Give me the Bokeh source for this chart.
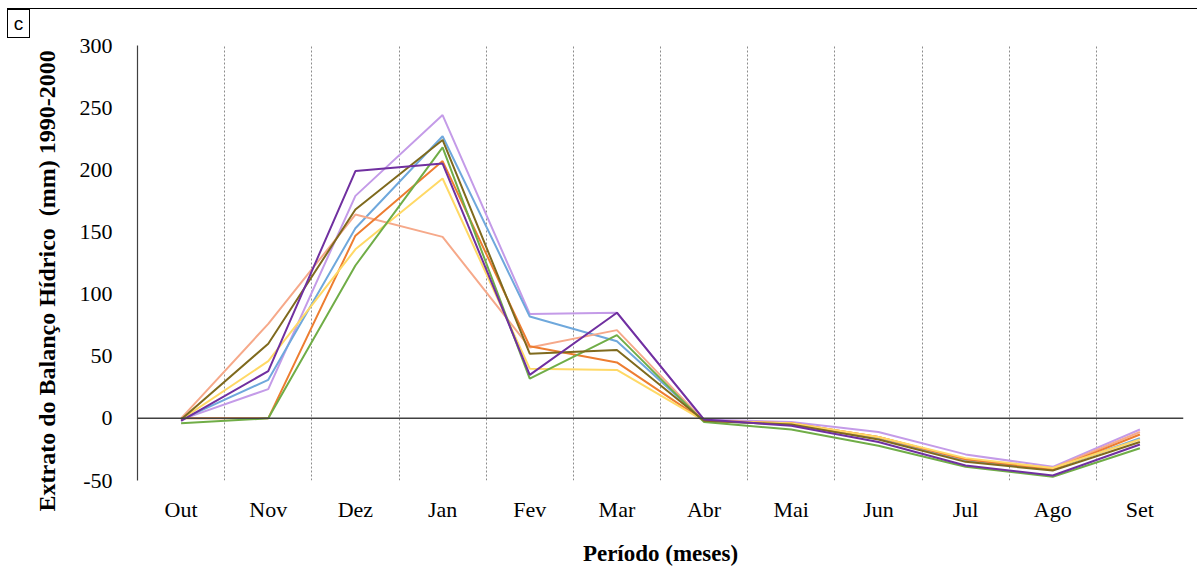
from bokeh.plotting import figure
from bokeh.layouts import column
from bokeh.models import Span, FixedTicker, Range1d, Title, Div
from bokeh.embed import file_html
from bokeh.resources import INLINE

months = ["Out", "Nov", "Dez", "Jan", "Fev", "Mar", "Abr", "Mai", "Jun", "Jul", "Ago", "Set"]
y_ticks = [-50, 0, 50, 100, 150, 200, 250, 300]

s_lavender = [-1, 23.5, 179, 244, 84, 85, -1, -3, -11, -29, -39, -9]
s_blue = [-1, 31, 153, 227, 82, 62, -2, -5, -16, -34, -41, -16]
s_salmon = [0, 76, 164, 146, 57, 71, -2, -4, -15, -33, -40, -11]
s_orange = [0, 0, 147, 207, 58, 45, -2, -4, -15, -33, -41, -13]
s_yellow = [-1, 46, 136, 193, 40, 39, -2, -4, -15, -32, -40, -17]
s_green = [-4, 0, 123, 218, 32, 67, -3, -9, -22, -39, -47, -24]
s_olive = [-1, 60, 168, 224, 52, 55, -2, -5, -17, -35, -42, -19]
s_purple = [-2, 38, 199, 205, 35, 85, -1, -6, -19, -38, -46, -21]

series = [
    (s_lavender, "#c49be8"),
    (s_blue, "#6fa8dc"),
    (s_salmon, "#f6a98a"),
    (s_orange, "#ed7d31"),
    (s_yellow, "#ffd966"),
    (s_green, "#70ad47"),
    (s_olive, "#7f6a1e"),
    (s_purple, "#7030a0"),
]

FONT = "Liberation Serif"

p = figure(width=1197, height=560, output_backend="svg", toolbar_location=None,
           x_range=Range1d(0, len(months)), y_range=Range1d(-50, 300),
           min_border_left=137, min_border_right=14, min_border_top=37, min_border_bottom=88)
p.outline_line_color = None
p.background_fill_color = "white"
p.border_fill_color = None

xs = [i + 0.5 for i in range(len(months))]
for vals, col in series:
    p.line(xs, vals, line_color=col, line_width=2)

# zero line
p.add_layout(Span(location=0, dimension="width", line_color="#404040", line_width=1.5))

# x axis
xa = p.xaxis[0]
xa.ticker = FixedTicker(ticks=xs)
xa.major_label_overrides = {x: m for x, m in zip(xs, months)}
xa.axis_line_color = None
xa.major_tick_line_color = None
xa.minor_tick_line_color = None
xa.major_label_text_font = FONT
xa.major_label_text_font_size = "22px"
xa.major_label_text_color = "black"
xa.major_label_standoff = 10
xa.axis_label = "Período (meses)"
xa.axis_label_text_font = FONT
xa.axis_label_text_font_size = "23px"
xa.axis_label_text_font_style = "bold"
xa.axis_label_text_color = "black"
xa.axis_label_standoff = 16

# y axis
ya = p.yaxis[0]
ya.ticker = FixedTicker(ticks=y_ticks)
ya.major_label_overrides = {-50: "-50"}
ya.axis_line_color = "#404040"
ya.axis_line_width = 1.2
ya.major_tick_line_color = None
ya.minor_tick_line_color = None
ya.major_label_text_font = FONT
ya.major_label_text_font_size = "22px"
ya.major_label_text_color = "black"
ya.major_label_standoff = 19

# grids
p.ygrid.grid_line_color = None
p.xgrid.ticker = FixedTicker(ticks=list(range(1, len(months) + 1)))
p.xgrid.grid_line_color = "#8c8c8c"
p.xgrid.grid_line_dash = "2 2"
p.xgrid.grid_line_width = 1

# y title (left panel, starting a little below the frame bottom)
p.add_layout(Title(text="Extrato do Balanço Hídrico\u00a0 (mm) 1990-2000", align="left",
                   offset=-31, standoff=33, text_font=FONT, text_font_size="24px",
                   text_font_style="bold", text_color="black"), "left")

# top rule and panel letter (the letter box overflows the thin strip)
top_html = (
    '<div style="position:relative;width:1190px;height:8px;overflow:visible;">'
    '<div style="position:absolute;left:0px;top:4px;width:1190px;height:0px;'
    'border-top:1.5px solid black;"></div>'
    '<div style="position:absolute;left:0px;top:5px;width:23px;height:29px;'
    'border:1px solid black;font-family:\'Liberation Sans\';font-size:19px;'
    'line-height:27px;text-align:center;color:black;background:white;">c</div>'
    '</div>'
)
top = Div(text=top_html, width=1190, height=8, margin=(0, 0, 0, 7),
          styles={"overflow": "visible", "z-index": "10", "position": "relative"})

layout = column(top, p, spacing=0)
open("out.html", "w").write(file_html(layout, INLINE))
